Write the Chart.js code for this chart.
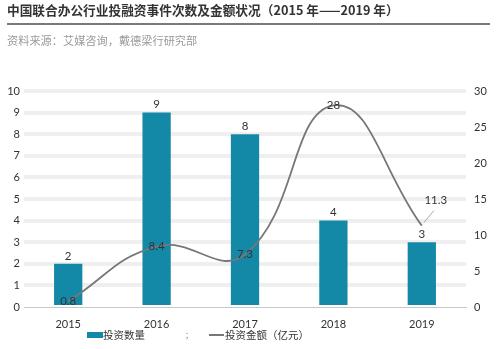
<!DOCTYPE html>
<html><head><meta charset="utf-8">
<script src="https://cdn.jsdelivr.net/npm/chart.js@4/dist/chart.umd.min.js"></script>
<style>
html,body{margin:0;padding:0;background:#fff;}
#wrap{position:relative;width:500px;height:349px;overflow:hidden;font-family:"Noto Sans CJK SC","Noto Sans",sans-serif;}
#title{position:absolute;left:7px;top:1px;font-size:12.7px;font-weight:bold;color:#333;white-space:nowrap;line-height:18px;}
#rule{position:absolute;left:7px;top:23px;width:483px;height:2px;background:#7a7a7a;}
#sub{position:absolute;left:7px;top:32px;font-size:11.2px;color:#9a9a9a;white-space:nowrap;line-height:16px;}
#c{position:absolute;left:0;top:0;}
.lg{position:absolute;font-size:10.5px;color:#333;white-space:nowrap;line-height:14px;top:328px;}
</style></head>
<body><div id="wrap">
<canvas id="c" width="500" height="349"></canvas>
<div id="title">中国联合办公行业投融资事件次数及金额状况（2015 年——2019 年）</div>
<div id="rule"></div>
<div id="sub">资料来源：艾媒咨询，戴德梁行研究部</div>
<div style="position:absolute;left:87px;top:332px;width:16px;height:6px;background:#1489a7"></div>
<div class="lg" style="left:103px">投资数量</div>
<div class="lg" style="left:185px;color:#888;font-size:8px">；</div>
<div style="position:absolute;left:209px;top:334px;width:15px;height:1.5px;background:#777"></div>
<div class="lg" style="left:225px">投资金额（亿元）</div>
</div>
<script>
const years = ['2015','2016','2017','2018','2019'];
const dealCounts = [2, 9, 8, 4, 3];
const dealAmounts = [0.8, 8.4, 7.3, 28, 11.3];
const countSeriesName = '投资数量';
const amountSeriesName = '投资金额（亿元）';

const labelPlugin = {
  id: 'vals',
  afterDatasetsDraw(chart) {
    const ctx = chart.ctx;
    ctx.save();
    ctx.font = '11.5px Lato, "Noto Sans", sans-serif';
    ctx.fillStyle = '#333';
    ctx.textAlign = 'center';
    ctx.textBaseline = 'middle';
    const barMeta = chart.getDatasetMeta(0);
    barMeta.data.forEach((el, i) => {
      ctx.fillText(String(dealCounts[i]), el.x, el.y - 8);
    });
    const lineMeta = chart.getDatasetMeta(1);
    lineMeta.data.forEach((el, i) => {
      if (i === dealAmounts.length - 1) {
        ctx.strokeStyle = '#aaa';
        ctx.lineWidth = 1;
        ctx.beginPath();
        ctx.moveTo(el.x + 2, el.y - 3);
        ctx.lineTo(el.x + 12, el.y - 15);
        ctx.stroke();
        ctx.fillText(String(dealAmounts[i]), el.x + 14, el.y - 25);
      } else {
        ctx.fillText(String(dealAmounts[i]), el.x, el.y);
      }
    });
    ctx.restore();
  }
};

new Chart(document.getElementById('c'), {
  data: {
    labels: years,
    datasets: [
      { type: 'bar', label: countSeriesName, data: dealCounts, yAxisID: 'y',
        backgroundColor: '#1489a7', barPercentage: 0.32, categoryPercentage: 1, order: 2 },
      { type: 'line', label: amountSeriesName, data: dealAmounts, yAxisID: 'y2',
        borderColor: '#777', borderWidth: 1.8, pointRadius: 0, tension: 0.45, fill: false, order: 1 }
    ]
  },
  options: {
    responsive: false,
    animation: false,
    layout: { padding: { top: 91, bottom: 0, left: 0, right: 0 } },
    plugins: { legend: { display: false }, tooltip: { enabled: false } },
    scales: {
      x: {
        grid: { display: false },
        border: { display: true, color: '#c8c8c8', width: 1 },
        ticks: { color: '#333', font: { family: 'Lato, "Noto Sans", sans-serif', size: 11 }, padding: 3 },
        afterFit(s) { s.height = 42; }
      },
      y: {
        position: 'left', min: 0, max: 10,
        ticks: { stepSize: 1, color: '#333', font: { family: 'Lato, "Noto Sans", sans-serif', size: 11 }, padding: 4 },
        grid: {
          drawTicks: false,
          color: (c) => c.tick && c.tick.value === 0 ? 'rgba(0,0,0,0)' : '#efefef',
          lineWidth: 4
        },
        border: { display: false },
        afterFit(s) { s.width = 24; }
      },
      y2: {
        position: 'right', min: 0, max: 30,
        ticks: { stepSize: 5, color: '#333', font: { family: 'Lato, "Noto Sans", sans-serif', size: 11 }, padding: 8 },
        grid: { display: false, drawTicks: false },
        border: { display: false },
        afterFit(s) { s.width = 34; }
      }
    }
  },
  plugins: [labelPlugin]
});
</script>
</body></html>
